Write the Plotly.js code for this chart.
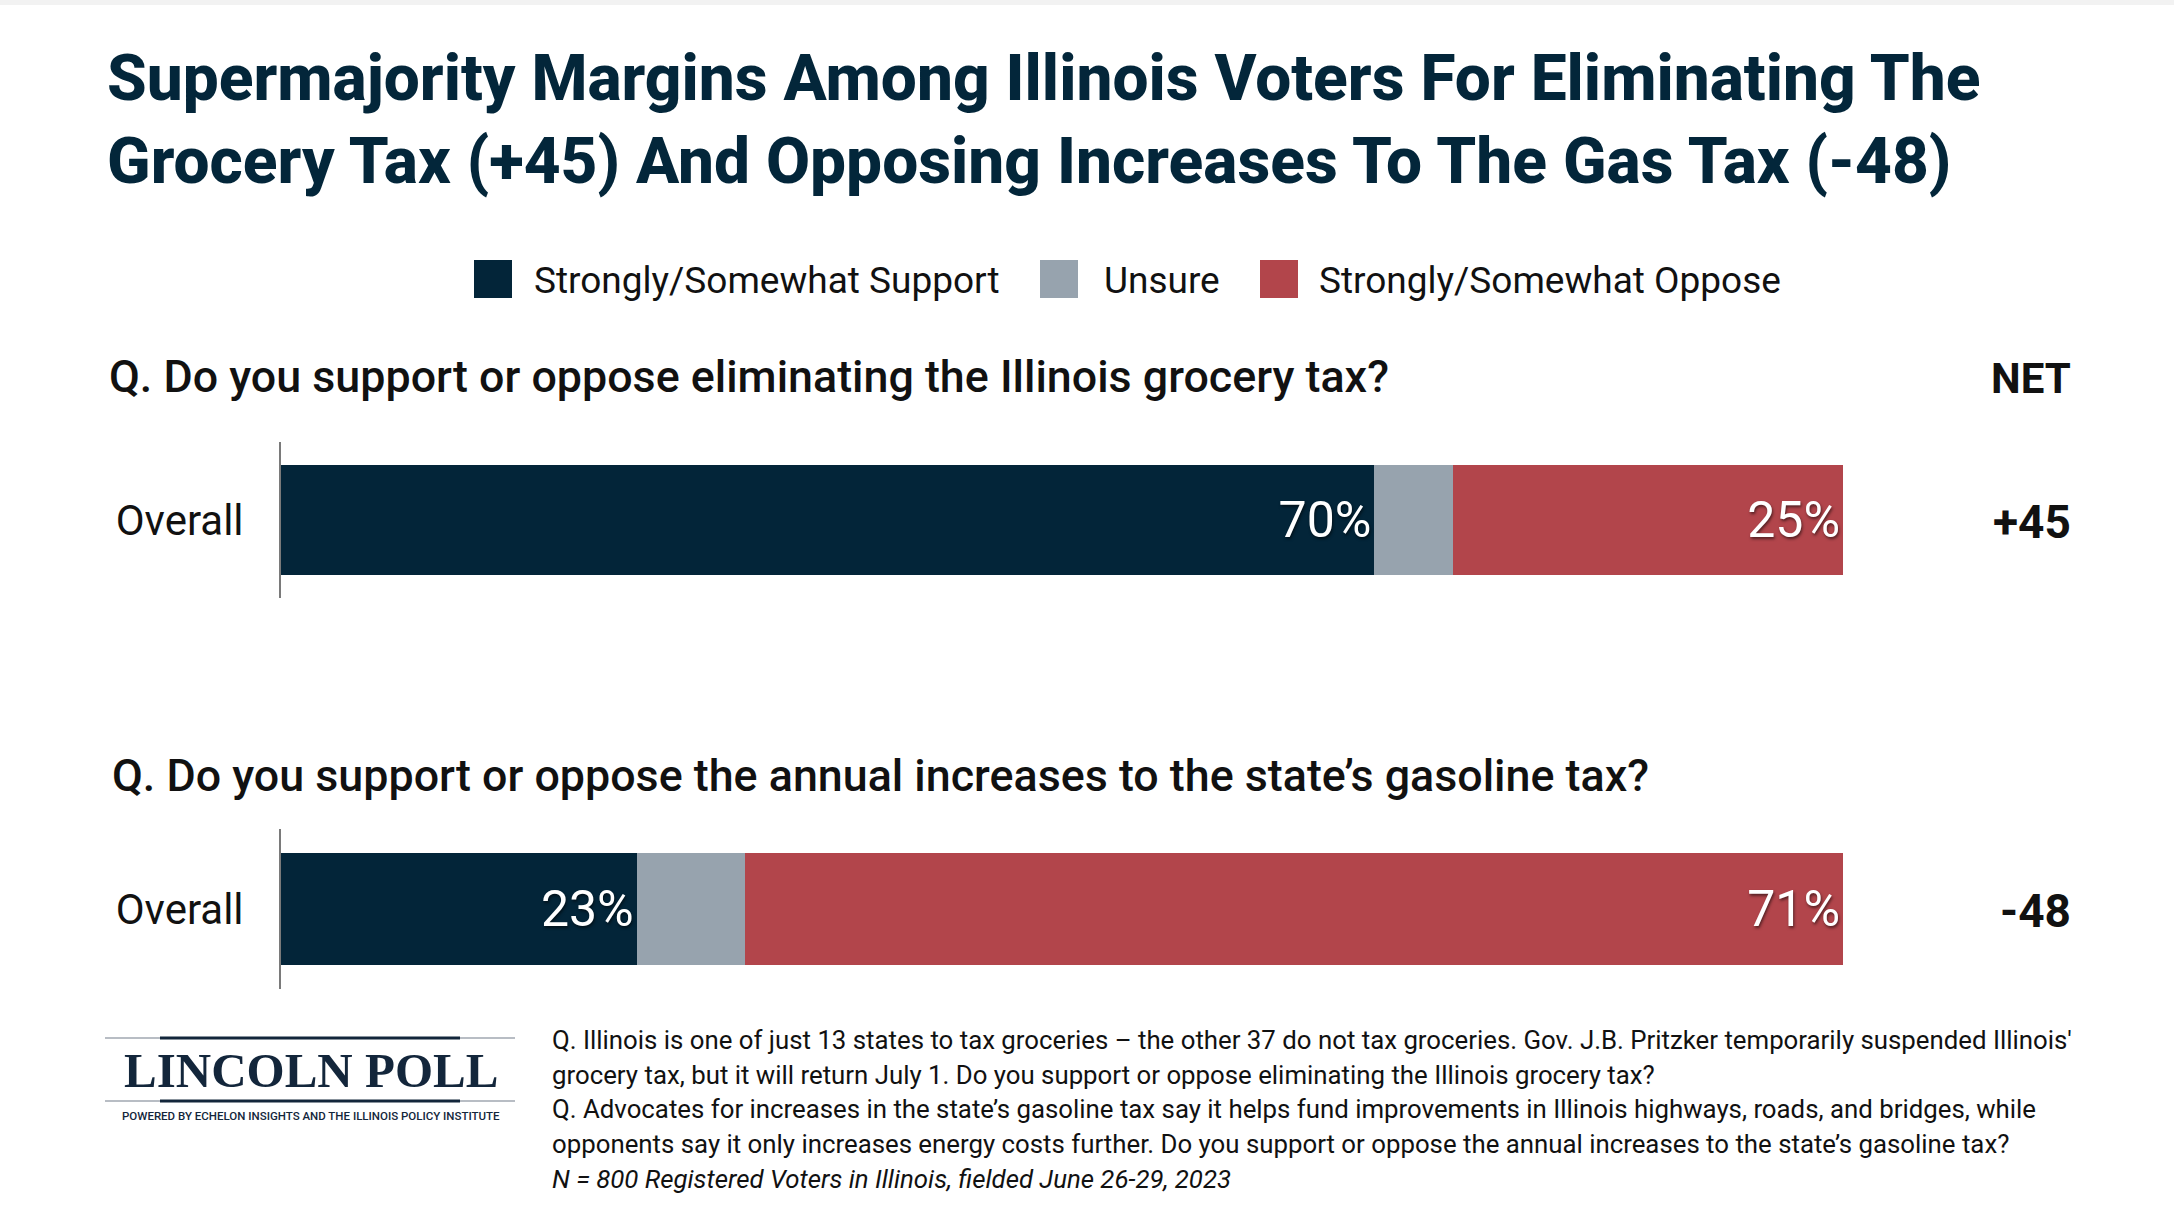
<!DOCTYPE html>
<html>
<head>
<meta charset="utf-8">
<script src="https://cdn.plot.ly/plotly-3.0.1.min.js"></script>
<style>
html,body{margin:0;padding:0;background:#fff;}
#chart{width:2174px;height:1210px;}
</style>
</head>
<body>
<div id="chart"></div>
<script>
// ---------------- DATA ----------------
const categories = ['Overall'];
const seriesNames = ['Strongly/Somewhat Support', 'Unsure', 'Strongly/Somewhat Oppose'];
const questions = [
  'Q. Do you support or oppose eliminating the Illinois grocery tax?',
  'Q. Do you support or oppose the annual increases to the state\u2019s gasoline tax?'
];
const grocerySupport = [70];
const groceryUnsure  = [5];
const groceryOppose  = [25];
const gasSupport = [23];
const gasUnsure  = [7];
const gasOppose  = [71];
const netHeader = 'NET';
const titleLines = [
  'Supermajority Margins Among Illinois Voters For Eliminating The',
  'Grocery Tax (+45) And Opposing Increases To The Gas Tax (-48)'
];
const footnoteLines = [
  'Q. Illinois is one of just 13 states to tax groceries \u2013 the other 37 do not tax groceries. Gov. J.B. Pritzker temporarily suspended Illinois\'',
  'grocery tax, but it will return July 1. Do you support or oppose eliminating the Illinois grocery tax?',
  'Q. Advocates for increases in the state\u2019s gasoline tax say it helps fund improvements in Illinois highways, roads, and bridges, while',
  'opponents say it only increases energy costs further. Do you support or oppose the annual increases to the state\u2019s gasoline tax?',
  '<i>N = 800 Registered Voters in Illinois, fielded June 26-29, 2023</i>'
];
const logoText = 'LINCOLN POLL';
const logoSub = 'POWERED BY ECHELON INSIGHTS AND THE ILLINOIS POLICY INSTITUTE';

// ---------------- STYLE ----------------
const colors = ['#032539', '#97a3ae', '#b2454b'];
const navy = '#03263a';
const W = 2174, H = 1210;
const px = x => x / W;
const py = y => 1 - y / H;
const FONT = 'Roboto, "Noto Sans", sans-serif';

const blocks = [
  {sup: grocerySupport, uns: groceryUnsure, opp: groceryOppose, xa: 'x', ya: 'y'},
  {sup: gasSupport, uns: gasUnsure, opp: gasOppose, xa: 'x2', ya: 'y2'}
];

const traces = [];
blocks.forEach((b, i) => {
  [b.sup, b.uns, b.opp].forEach((vals, k) => {
    traces.push({
      type: 'bar',
      orientation: 'h',
      name: seriesNames[k],
      x: vals,
      y: categories,
      xaxis: b.xa,
      yaxis: b.ya,
      marker: {color: colors[k], line: {width: 0}},
      text: k === 1 ? vals.map(() => '') : vals.map(v => v + '%'),
      textposition: 'inside',
      insidetextanchor: 'end',
      constraintext: 'none',
      textfont: {family: FONT, size: 50, color: '#ffffff', shadow: '1px 2px 3px rgba(0,0,0,0.55)'},
      hoverinfo: 'skip',
      showlegend: false,
      cliponaxis: false
    });
  });
});

const xDomain = [px(281), px(1843)];
const yAxisCommon = {
  showline: true, linecolor: '#7a7a7a', linewidth: 2,
  ticks: '', showgrid: false, zeroline: false,
  tickfont: {family: FONT, size: 42, color: '#111111'},
  ticklabelstandoff: 27, fixedrange: true
};
const totals = blocks.map(b => b.sup[0] + b.uns[0] + b.opp[0]);

const annotations = [];
// Question headers
const qY = [377, 775];
const qX = [107, 110];
questions.forEach((q, i) => {
  annotations.push({text: q, xref: 'paper', yref: 'paper', x: px(qX[i]), y: py(qY[i]),
    xanchor: 'left', yanchor: 'middle', showarrow: false,
    font: {family: FONT, size: 44.8, weight: 500, color: '#111111'}});
});
// NET header and values
annotations.push({text: netHeader, xref: 'paper', yref: 'paper', x: px(2073), y: py(378),
  xanchor: 'right', yanchor: 'middle', showarrow: false,
  font: {family: FONT, size: 42, weight: 700, color: '#111111'}});
const netY = [522, 911];
blocks.forEach((b, i) => {
  const n = b.sup[0] - b.opp[0];
  annotations.push({text: (n > 0 ? '+' : '') + n, xref: 'paper', yref: 'paper', x: px(2073), y: py(netY[i]),
    xanchor: 'right', yanchor: 'middle', showarrow: false,
    font: {family: FONT, size: 46, weight: 700, color: '#111111'}});
});
// Legend (custom large swatches)
const legSw = [474, 1040, 1260];
const legTx = [532, 1102, 1317];
const shapes = [];
seriesNames.forEach((s, k) => {
  shapes.push({type: 'rect', xref: 'paper', yref: 'paper', x0: px(legSw[k]), x1: px(legSw[k] + 38),
    y0: py(298), y1: py(260), fillcolor: colors[k], line: {width: 0}});
  annotations.push({text: s, xref: 'paper', yref: 'paper', x: px(legTx[k]), y: py(280),
    xanchor: 'left', yanchor: 'middle', showarrow: false,
    font: {family: FONT, size: 37, color: '#111111'}});
});
// Footnotes
const fnY = [1040, 1075, 1109, 1144, 1179];
footnoteLines.forEach((t, i) => {
  annotations.push({text: t, xref: 'paper', yref: 'paper', x: px(550), y: py(fnY[i]),
    xanchor: 'left', yanchor: 'middle', showarrow: false,
    font: {family: FONT, size: 25.8, color: '#111111'}});
});
// Logo
annotations.push({text: '<b>' + logoText + '</b>', xref: 'paper', yref: 'paper', x: px(311), y: py(1070),
  xanchor: 'center', yanchor: 'middle', showarrow: false,
  font: {family: '"Liberation Serif", "DejaVu Serif", serif', size: 49, color: '#13263b'}});
annotations.push({text: logoSub, xref: 'paper', yref: 'paper', x: px(311), y: py(1116),
  xanchor: 'center', yanchor: 'middle', showarrow: false,
  font: {family: FONT, size: 11.5, weight: 500, color: '#13263b'}});
[1038, 1101].forEach(y => {
  shapes.push({type: 'line', xref: 'paper', yref: 'paper', x0: px(105), x1: px(515), y0: py(y), y1: py(y),
    line: {color: 'rgba(19,38,59,0.3)', width: 2}});
  shapes.push({type: 'line', xref: 'paper', yref: 'paper', x0: px(160), x1: px(460), y0: py(y), y1: py(y),
    line: {color: '#13263b', width: 3}});
});
// faint top shadow
shapes.push({type: 'rect', xref: 'paper', yref: 'paper', x0: 0, x1: 1, y0: py(5), y1: 1,
  fillcolor: 'rgba(0,0,0,0.05)', line: {width: 0}, layer: 'below'});

const layout = {
  width: W, height: H,
  margin: {l: 0, r: 0, t: 0, b: 0},
  paper_bgcolor: '#ffffff', plot_bgcolor: '#ffffff',
  barmode: 'stack', bargap: 0.3,
  showlegend: false,
  title: {
    text: titleLines.join('<br>'),
    x: px(107), xanchor: 'left', xref: 'paper',
    y: py(100), yanchor: 'top', yref: 'container',
    font: {family: FONT, size: 64, weight: 800, color: navy}
  },
  xaxis: {domain: xDomain, anchor: 'y', range: [0, totals[0]], visible: false, fixedrange: true},
  yaxis: Object.assign({domain: [py(598), py(442)], anchor: 'x'}, yAxisCommon),
  xaxis2: {domain: xDomain, anchor: 'y2', range: [0, totals[1]], visible: false, fixedrange: true},
  yaxis2: Object.assign({domain: [py(989), py(829)], anchor: 'x2'}, yAxisCommon),
  annotations: annotations,
  shapes: shapes
};

Plotly.newPlot('chart', traces, layout, {displayModeBar: false, staticPlot: true});
</script>
</body>
</html>
